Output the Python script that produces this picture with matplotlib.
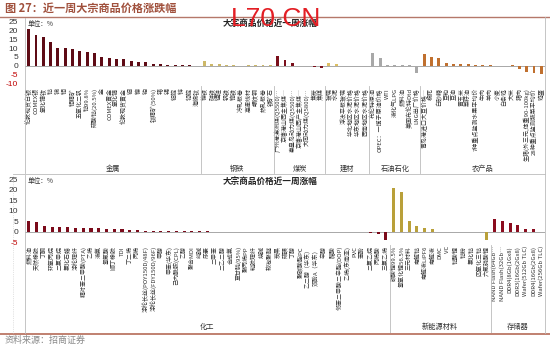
import matplotlib
matplotlib.use("Agg")
import matplotlib.pyplot as plt
from matplotlib.lines import Line2D
from matplotlib.transforms import blended_transform_factory

plt.rcParams['font.family'] = ['Noto Sans CJK SC', 'DejaVu Sans']

# ---------------- data: top chart ----------------
metal_labels = ["伦敦现货白银", "COMEX银", "氧化镨钕", "钴", "锑", "钼", "钼精矿", "五氧化二钒",
                "钴99.8%", "硫酸钴(20.5%)", "金", "COMEX黄金", "氧化镝", "伦敦现货黄金", "铟", "镍",
                "铂", "钛精矿(50%)", "锗", "锡", "铝锭", "锌", "铅锭", "海绵钛"]
metal_values = [20.6, 17.4, 16.1, 13.3, 10.0, 9.8, 9.3, 8.5, 8.0, 7.0, 5.1, 4.4, 4.0, 3.6,
                2.8, 2.1, 1.9, 0.9, 0.7, 0.6, 0.5, 0.4, 0.3, 0.1]
steel_labels = ["镍铁", "硅铁", "锰硅", "钒铁", "铬铁", "冷轧板卷", "高速线材", "螺纹钢", "热轧板卷", "铁矿石"]
steel_values = [2.5, 1.2, 1.0, 0.5, 0.4, 0.0, 0.3, 0.3, 0.3, 0.3]
coal_labels = ["广州港澳洲煤(Q5500)…", "京唐港山西主焦煤…", "秦皇岛动力煤(Q5500)…",
               "京唐港山西产主焦煤…", "大同动力煤(Q5800)…", "焦炭", "焦煤"]
coal_values = [5.5, 3.0, 1.5, 0.0, 0.0, -0.8, -1.5]
build_labels = ["玻璃", "水泥", "浮法平板玻璃", "华北地区水泥价格", "华东地区水泥价格", "西南地区水泥价格"]
build_values = [1.8, 1.0, 0.0, 0.1, 0.0, 0.0]
oil_labels = ["布伦特原油", "OPEC：一揽子原油价格", "WTI", "液化气LPG", "燃料油", "美国布伦特Dtd", "LNG出厂价格"]
oil_values = [7.4, 4.5, 0.3, 0.3, 0.2, 0.5, -4.2]
agri_labels = ["青岛港进口大豆价格…", "棉花", "白砂糖", "豆粕", "豆油", "黄玉米", "菜籽油",
               "7种重点监测水果平均价", "牛肉", "羊肉", "小麦", "白条鸡", "大米", "猪肉",
               "生猪(外三元,体重90-100kg)", "28种重点监测蔬菜平均价", "鸡蛋"]
agri_values = [6.8, 4.9, 4.3, 1.5, 1.0, 0.8, 0.7, 0.5, 0.4, 0.2, 0.1, 0.0, 0.2, -1.8, -3.5, -4.2, -4.8]

top_groups = ["金属", "钢铁", "煤炭", "建材", "石油石化", "农产品"]
top_group_labels = [metal_labels, steel_labels, coal_labels, build_labels, oil_labels, agri_labels]
top_group_values = [metal_values, steel_values, coal_values, build_values, oil_values, agri_values]
top_colors = ["#5E0B15", "#CDB868", "#7A0F1B", "#DDBF62", "#A8A8A8", "#C0702F"]

# ---------------- data: bottom chart ----------------
chem_labels = ["燃料油", "天然橡胶", "丁酮", "环氧丙烷", "二氯甲烷", "氯化石蜡", "涤纶短纤",
               "精对苯二甲酸(PTA)", "乙烯", "液氨", "氢氟酸", "顺丁橡胶", "TDI", "丁二烯", "丙烯",
               "涤纶长丝(POY150D/48F)", "涤纶长丝(FDY150D/96F)", "甲醇", "甲苯(华东)",
               "己内酰胺(CPL)", "乙醇", "聚合MDI", "纯碱", "尿素", "二甲苯", "二乙二醇", "合成氨",
               "草甘膦(95%)", "聚丙烯PP", "粘胶短纤", "烧碱", "软泡聚醚", "炭黑", "硫磺", "丁醇",
               "聚碳酸酯PC", "乙二醇（华东）", "双酚A（华东）", "辛醇", "醋酸",
               "邻苯二甲酸二辛酯(DOP)", "乙烯(东南亚)", "PVC", "苯酚", "二氯乙烷", "丙烯酸", "三氯乙烯"]
chem_values = [5.1, 4.8, 2.9, 2.5, 2.2, 2.2, 1.6, 1.6, 1.6, 1.6,
               1.4, 1.4, 1.1, 0.8, 0.6, 0.5, 0.5, 0.4, 0.3, 0.3,
               0.3, 0.2, 0.2, 0.2, 0.1, 0.1, 0.1, 0.1, 0.1, 0.1,
               0.0, 0.0, 0.0, 0.0, 0.0, 0.0, 0.0, 0.0, 0.0, 0.0, 0.0, 0.0,
               -0.3, -0.3, -0.4, -1.1, -3.8]
ne_labels = ["碳酸锂99.5%", "氢氧化锂56.5%", "三元材料", "电解钴", "电解液LiPF6", "电解液", "DMC",
             "VC", "钴酸锂", "钴粉", "氯化钴", "四氧化三钴", "六氟磷酸锂"]
ne_values = [20.6, 18.7, 5.1, 2.9, 1.6, 1.4, 0.0, 0.0, 0.0, 0.0, 0.0, 0.0, -4.0]
mem_labels = ["NAND Flash(64Gb…", "NAND Flash(32Gb…", "DDR4(8Gb(1Gx8)", "DDR3(16Gb(2Gx8)",
              "Wafer(512Gb TLC)", "DDR4(16Gb(2Gx8)", "Wafer(256Gb TLC)"]
mem_values = [5.9, 5.2, 4.4, 3.2, 1.4, 1.3, 0.0]

bot_groups = ["化工", "新能源材料", "存储器"]
bot_group_labels = [chem_labels, ne_labels, mem_labels]
bot_group_values = [chem_values, ne_values, mem_values]
bot_colors = ["#7B0A1A", "#B9A03A", "#8B0C1E"]

y_ticks_top = [25, 20, 15, 10, 5, 0, -5, -10]
y_ticks_bot = [25, 20, 15, 10, 5, 0, -5]

# ---------------- figure ----------------
W, H = 550, 347
fig = plt.figure(figsize=(W / 100, H / 100), dpi=100)

def rect(x0, y0, x1, y1):
    return [x0 / W, 1 - y1 / H, (x1 - x0) / W, (y1 - y0) / H]

def fy(y):
    return 1 - y / H

def fx(x):
    return x / W

line_col = "#BBBBBB"

def draw_panel(ax, groups, labels_list, values_list, colors, ylim, yticks,
               label_top_px, bottom_px, group_y_px):
    labels, values, cols, bounds = [], [], [], []
    start = 0
    for lab, val, c in zip(labels_list, values_list, colors):
        labels += lab
        values += val
        cols += [c] * len(val)
        bounds.append((start, start + len(val)))
        start += len(val)
    n = len(values)
    x = list(range(n))
    ax.bar(x, values, width=0.4, color=cols, zorder=3)
    ax.axhline(0, color="#9A9A9A", lw=0.6, zorder=2)
    ax.set_xlim(-0.5, n - 0.5)
    ax.set_ylim(*ylim)
    ax.set_yticks(yticks)
    ax.set_yticklabels([str(t) for t in yticks], fontsize=6.0, family="Liberation Sans")
    for t, lab in zip(yticks, ax.get_yticklabels()):
        lab.set_color("#C00000" if t < 0 else "#333333")
    ax.set_xticks(x)
    ax.set_xticklabels(labels, rotation=90, fontsize=4.3, color="#333333")
    ax.tick_params(axis="both", length=0)
    ax.tick_params(axis="y", pad=5)
    ax.tick_params(axis="x", pad=2)
    for s in ax.spines.values():
        s.set_visible(False)
    ax.patch.set_alpha(0)
    tr = blended_transform_factory(ax.transData, fig.transFigure)
    for i, (b0, b1) in enumerate(bounds):
        if i > 0:
            fig.add_artist(Line2D([b0 - 0.5, b0 - 0.5], [fy(label_top_px), fy(bottom_px)],
                                  transform=tr, color=line_col, lw=0.6))
        fig.text((b0 + b1 - 1) / 2, fy(group_y_px), groups[i], transform=tr,
                 ha="center", va="center", fontsize=5.2, color="#333333")

# top panel
ax1 = fig.add_axes(rect(25, 20.8, 545, 85.1))
draw_panel(ax1, top_groups, top_group_labels, top_group_values, top_colors,
           (-11, 25.5), y_ticks_top, 86, 173, 169)

# bottom panel
ax2 = fig.add_axes(rect(25, 178.2, 545, 243.3))
draw_panel(ax2, bot_groups, bot_group_labels, bot_group_values, bot_colors,
           (-5.5, 25.5), y_ticks_bot, 245, 333, 327)

# frame lines
fig.add_artist(Line2D([fx(0), fx(550)], [fy(16.5), fy(16.5)], color="#B5786A", lw=1.0))
fig.add_artist(Line2D([fx(0), fx(550)], [fy(334), fy(334)], color="#C08070", lw=1.4))
fig.add_artist(Line2D([fx(25), fx(25)], [fy(18), fy(173)], color=line_col, lw=0.6))
fig.add_artist(Line2D([fx(25), fx(25)], [fy(175), fy(333)], color=line_col, lw=0.6))
fig.add_artist(Line2D([fx(545), fx(545)], [fy(17), fy(333)], color=line_col, lw=0.6))
fig.add_artist(Line2D([fx(13), fx(545)], [fy(173.5), fy(173.5)], color=line_col, lw=0.6))
fig.add_artist(Line2D([fx(13), fx(13)], [fy(176), fy(333)], color="#C8C8C8", lw=0.5, ls=":"))

# texts
fig.text(fx(5), fy(8.5), "图 27：近一周大宗商品价格涨跌幅", fontsize=8, color="#A0503C",
         weight="bold", va="center", ha="left")
fig.text(fx(270), fy(24), "大宗商品价格近一周涨幅", fontsize=6.2, weight="bold",
         ha="center", va="center", color="#222222")
fig.text(fx(270), fy(182), "大宗商品价格近一周涨幅", fontsize=6.2, weight="bold",
         ha="center", va="center", color="#222222")
fig.text(fx(28), fy(24), "单位：%", fontsize=4.8, ha="left", va="center", color="#333333")
fig.text(fx(28), fy(181), "单位：%", fontsize=4.8, ha="left", va="center", color="#333333")
fig.text(fx(5), fy(340.5), "资料来源：招商证券", fontsize=6.5, color="#8A8A8A", ha="left", va="center")
fig.text(fx(231), fy(26), "L70 CN", fontsize=19, color="#E31E24", family="Liberation Sans",
         ha="left", va="baseline")

fig.savefig("out.png", dpi=100)
